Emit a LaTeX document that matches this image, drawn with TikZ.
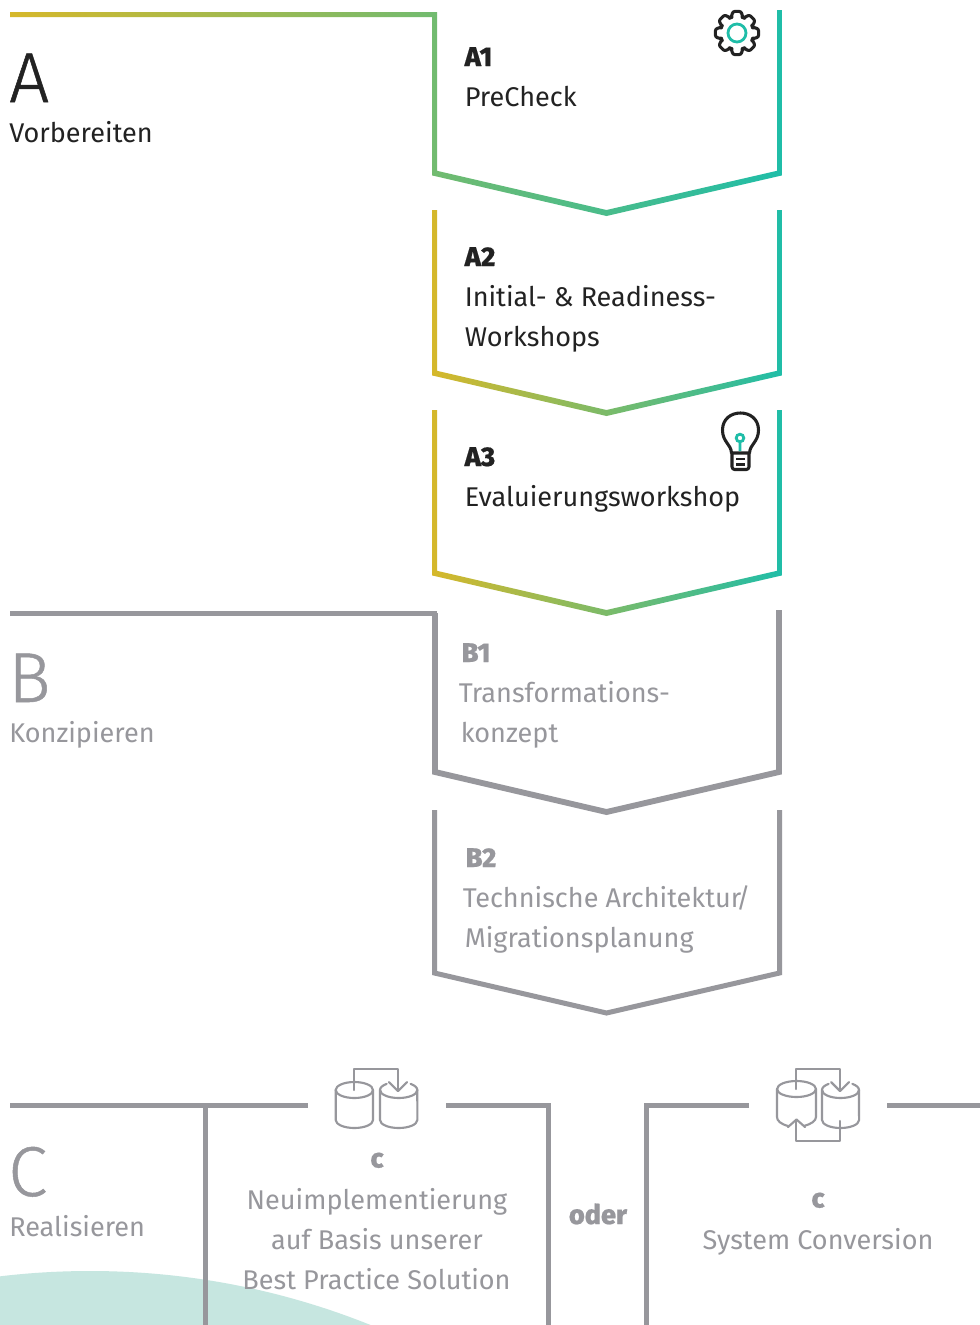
\documentclass[tikz,border=0pt]{standalone}
\usepackage{fontspec}
\setmainfont{Fira Sans}
\newfontfamily\bodyf{Fira Sans}
\newfontfamily\headf{Fira Sans ExtraBold}[FakeBold=0.6]
\newfontfamily\bigf{Fira Sans Light}[FakeBold=0.7]
\definecolor{ink}{HTML}{222222}
\definecolor{greyc}{HTML}{97979C}
\definecolor{yel}{HTML}{D6B82A}
\definecolor{grn}{HTML}{7BBE66}
\definecolor{tea}{HTML}{1FBDA8}
\definecolor{pale}{HTML}{C6E6E0}
\tikzset{
 txt/.style={anchor=base west,inner sep=0pt,font=\bodyf\fontsize{20.3}{24}\selectfont,text=ink},
 gtxt/.style={txt,text=greyc},
 ctxt/.style={anchor=base,inner sep=0pt,font=\bodyf\fontsize{20.3}{24}\selectfont,text=greyc},
 hd/.style={anchor=base west,inner sep=0pt,font=\headf\fontsize{20.3}{24}\selectfont,text=ink},
 ghd/.style={hd,text=greyc},
 chd/.style={anchor=base,inner sep=0pt,font=\headf\fontsize{20.3}{24}\selectfont,text=greyc},
 big/.style={anchor=base west,inner sep=0pt,font=\bigf\fontsize{53}{60}\selectfont},
 rule/.style={line width=3.75pt,draw=greyc},
 iconline/.style={line width=1.6pt,draw=greyc,line cap=round,line join=round},
 ticon/.style={line width=2.3pt,draw=ink,line join=round},
 tealicon/.style={line width=2.1pt,draw=tea}
}
\newcommand{\chevoutline}[3]{(437,#1) -- (437,#2-2.2) -- (606.5,#3-3) -- (777,#2-2.2) -- (777,#1) -- (782,#1) -- (782,#2+2.4) -- (606.5,#3+3) -- (432,#2+2.4) -- (432,#1) -- cycle}
\begin{document}
\begin{tikzpicture}[x=0.75pt,y=-0.75pt]
\useasboundingbox (0,0) rectangle (980,1325);
\fill[white] (0,0) rectangle (980,1325);
% pale arc
\begin{scope}
\clip (0,0) rectangle (980,1325);
\fill[pale] (90,2024) circle[radius=564.75pt];
\end{scope}
% A1 with header
\begin{scope}
\clip (10,12) -- (437,12) -- (437,170.8) -- (606.5,210) -- (777,170.8) -- (777,10) -- (782,10) -- (782,175.4) -- (606.5,216) -- (432,175.4) -- (432,17) -- (10,17) -- cycle;
\shade[left color=yel,middle color=grn!92!yel,right color=tea] (10,0) rectangle (782,220);
\end{scope}
% A2, A3
\begin{scope}
\clip \chevoutline{210}{373}{413};
\shade[left color=yel,middle color=grn,right color=tea] (432,200) rectangle (782,420);
\end{scope}
\begin{scope}
\clip \chevoutline{410}{573}{613};
\shade[left color=yel,middle color=grn,right color=tea] (432,400) rectangle (782,620);
\end{scope}
% B
\draw[rule,line width=4.4pt] (435,613) -- (435,772) -- (606.5,812) -- (779,772) -- (779,610);
\draw[rule] (10,613) -- (437,613);
\draw[rule] (434.5,810) -- (434.5,973) -- (606.5,1013) -- (779.5,973) -- (779.5,810);
% C
\draw[rule] (10,1105) -- (308,1105);
\draw[rule] (205,1105) -- (205,1325);
\draw[rule] (446,1105) -- (548,1105) -- (548,1325);
\draw[rule] (749,1105) -- (646,1105) -- (646,1325);
\draw[rule] (887,1105) -- (980,1105);
% gear
\draw[ticon,rounded corners=1.6pt] ({737+16.5*cos(-20.5)},{33+16.5*sin(-20.5)})
 \foreach \a in {0,45,...,315} {
  -- ({737+22*cos(\a-11)},{33+22*sin(\a-11)})
  -- ({737+22*cos(\a+11)},{33+22*sin(\a+11)})
  -- ({737+16.5*cos(\a+20.5)},{33+16.5*sin(\a+20.5)})
  -- ({737+16.5*cos(\a+24.5)},{33+16.5*sin(\a+24.5)})
 } -- cycle;
\draw[tealicon] (737,33) circle[radius=6.75pt];
% bulb
\draw[ticon,line cap=round] (731.5,453) .. controls (731,444) and (722.5,442) .. (722.5,430) .. controls (722.5,419) and (731,413) .. (740.5,413) .. controls (750,413) and (758.5,419) .. (758.5,430) .. controls (758.5,442) and (750,444) .. (749.5,453) -- cycle;
\draw[ticon,rounded corners=2pt] (732,453) -- (732,469.5) -- (749,469.5) -- (749,453);
\draw[ticon,line width=1.7pt] (736,459) -- (745,459) (736,464.5) -- (745,464.5);
\draw[tealicon] (740,438) circle[radius=2.85pt] (740,442) -- (740,451);
% icon 1
\draw[iconline] (373,1090) arc[start angle=0,end angle=180,x radius=14pt,y radius=6pt];
\draw[iconline] (335.7,1090) arc[start angle=180,end angle=360,x radius=14pt,y radius=6pt];
\draw[iconline] (335.7,1090) -- (335.7,1120) arc[start angle=180,end angle=360,x radius=14pt,y radius=6pt] -- (373,1090);
\draw[iconline] (354,1090) -- (354,1069) -- (398,1069) -- (398,1090);
\draw[iconline] (389,1082) -- (398,1091) -- (407,1082);
\draw[iconline] (380,1090) arc[start angle=180,end angle=360,x radius=14pt,y radius=6pt];
\draw[iconline] (417.3,1090) arc[start angle=0,end angle=50,x radius=14pt,y radius=6pt];
\draw[iconline] (380,1090) arc[start angle=180,end angle=130,x radius=14pt,y radius=6pt];
\draw[iconline] (380,1090) -- (380,1120) arc[start angle=180,end angle=360,x radius=14pt,y radius=6pt] -- (417.3,1090);
% icon 2
\draw[iconline] (816,1089) arc[start angle=0,end angle=180,x radius=14.6pt,y radius=6pt];
\draw[iconline] (777,1089) arc[start angle=180,end angle=360,x radius=14.6pt,y radius=6pt];
\draw[iconline] (777,1089) -- (777,1117) .. controls (777,1121) and (781,1124) .. (788,1126);
\draw[iconline] (816,1089) -- (816,1117) .. controls (816,1121) and (811,1124) .. (804,1126);
\draw[iconline] (796,1089) -- (796,1069) -- (840,1069) -- (840,1090);
\draw[iconline] (831,1082) -- (840,1091) -- (849,1082);
\draw[iconline] (822,1090) arc[start angle=180,end angle=360,x radius=13.9pt,y radius=6pt];
\draw[iconline] (859,1090) arc[start angle=0,end angle=50,x radius=13.9pt,y radius=6pt];
\draw[iconline] (822,1090) arc[start angle=180,end angle=130,x radius=13.9pt,y radius=6pt];
\draw[iconline] (822,1090) -- (822,1120) arc[start angle=180,end angle=360,x radius=13.9pt,y radius=6pt] -- (859,1090);
\draw[iconline] (840,1121) -- (840,1141) -- (796,1141) -- (796,1120);
\draw[iconline] (788,1127) -- (796.5,1119.5) -- (805,1127);
% texts
\node[big,text=ink] (bigA) at (9,102) {A};
\node[txt] (lblA) at (9,142) {Vorbereiten};
\node[hd] (a1) at (464.5,66) {A1};
\node[txt] (a1t) at (464.5,106) {PreCheck};
\node[hd] (a2) at (464.5,266) {A2};
\node[txt] (a2t) at (464.5,306) {Initial- \& Readiness-};
\node[txt] (a2u) at (464.5,346) {Workshops};
\node[hd] (a3) at (464.5,466) {A3};
\node[txt] (a3t) at (464.5,506) {Evaluierungsworkshop};
\node[big,text=greyc] (bigB) at (8,702) {B};
\node[gtxt] (lblB) at (9,742) {Konzipieren};
\node[ghd] (b1) at (461.5,662) {B1};
\node[gtxt] (b1t) at (458.5,702) {Transformations-};
\node[gtxt] (b1u) at (460.5,742) {konzept};
\node[ghd] (b2) at (465.5,867) {B2};
\node[gtxt] (b2t) at (462.5,907) {Technische Architektur\kern-3.6pt/};
\node[gtxt] (b2u) at (464.5,947) {Migrationsplanung};
\node[big,text=greyc] (bigC) at (8,1196) {C};
\node[gtxt] (lblC) at (9,1236) {Realisieren};
\node[chd] (c1) at (377,1167.5) {c};
\node[ctxt] (c1a) at (377,1209) {Neuimplementierung};
\node[ctxt] (c1b) at (377,1249) {auf Basis unserer};
\node[ctxt] (c1c) at (376.5,1289) {Best Practice Solution};
\node[chd] (oder) at (598,1224) {oder};
\node[chd] (c2) at (818,1207.5) {c};
\node[ctxt] (c2a) at (818,1249) {System Conversion};
\end{tikzpicture}
\end{document}
